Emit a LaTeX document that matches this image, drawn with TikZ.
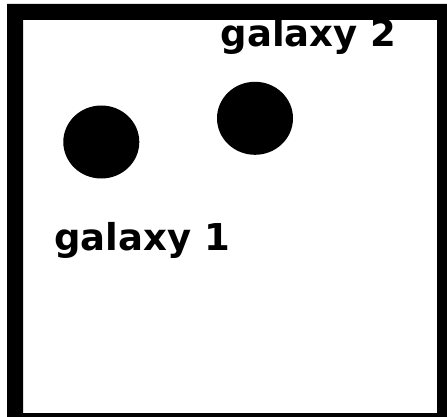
\documentclass[tikz,border=0pt]{standalone}
\usepackage{fontspec}
\setmainfont{DejaVu Sans}
\usetikzlibrary{shapes.geometric}
\tikzset{
  galaxydot/.style={ellipse, fill=black, inner sep=0pt, minimum width=76pt, minimum height=73pt},
  galaxylabel/.style={inner sep=0pt, anchor=base west, font=\fontsize{37}{40}\selectfont\bfseries}
}
\begin{document}
\begin{tikzpicture}[x=1pt,y=-1pt]
\useasboundingbox (0,0) rectangle (447,417);
\fill[white] (0,0) rectangle (447,417);
\begin{scope}
\clip (0,0) rectangle (447,417);
\node[galaxydot] (g1) at (101.3,142) {};
\node[galaxydot] (g2) at (255,118.3) {};
\node[galaxylabel] (l1) at (54,250) {galaxy 1};
\node[galaxylabel] (l2) at (220.5,47) {galaxy 2};
\fill[black, even odd rule] (7,4) rectangle (460,430) (23,20) rectangle (437,413);
\end{scope}
\end{tikzpicture}
\end{document}
